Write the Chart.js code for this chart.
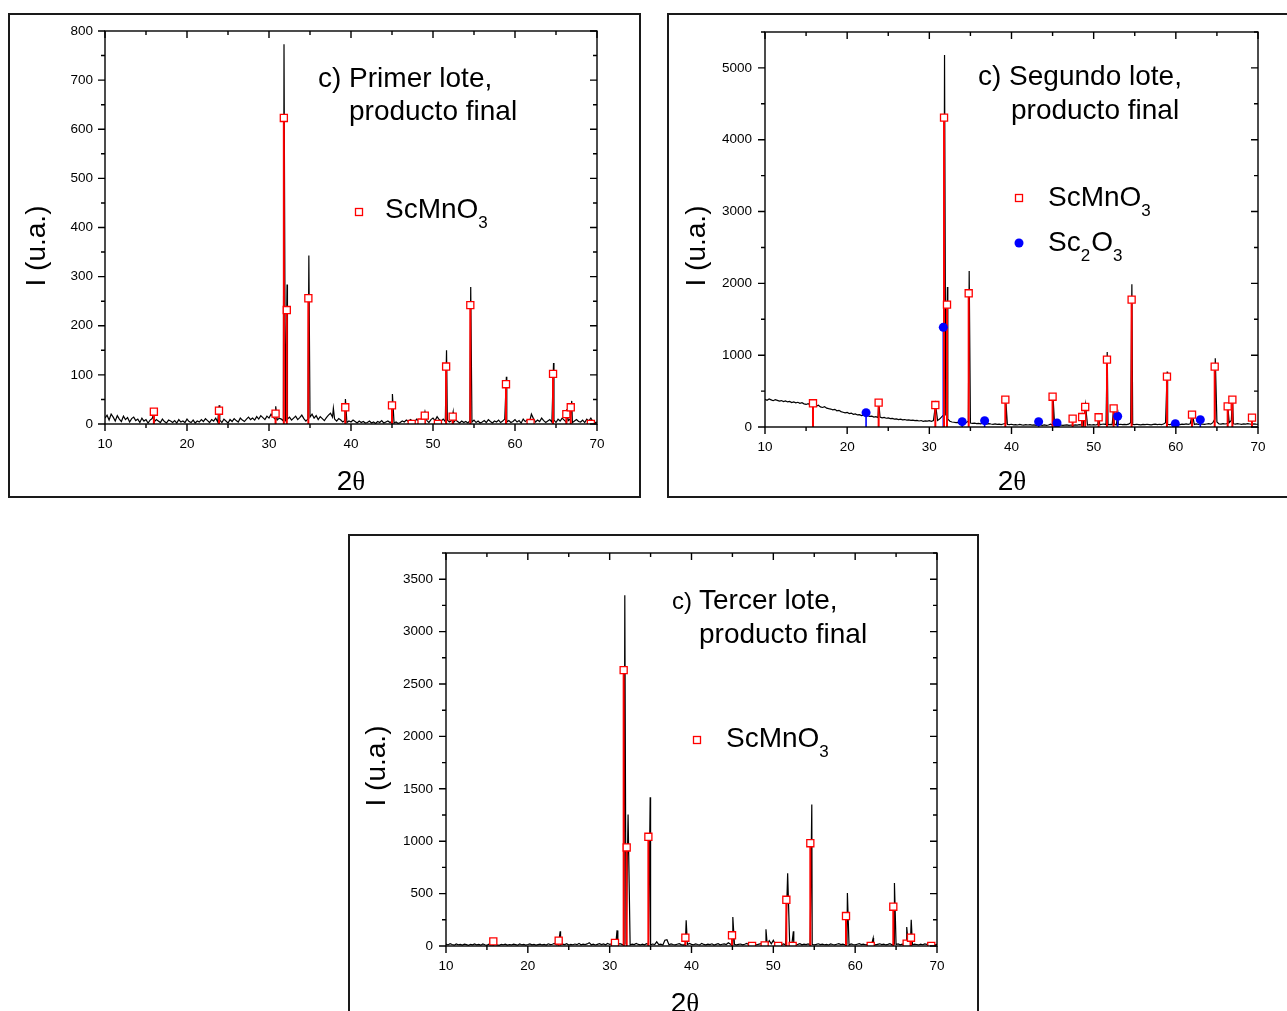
<!DOCTYPE html>
<html>
<head>
<meta charset="utf-8">
<script src="https://cdn.jsdelivr.net/npm/chart.js@4.4.1/dist/chart.umd.min.js"></script>
<style>
  html, body { margin: 0; padding: 0; background: #fff; width: 1287px; height: 1011px; overflow: hidden; }
  .frame { position: absolute; border: 2px solid #1a1a1a; box-sizing: border-box; }
  canvas { position: absolute; }
</style>
</head>
<body>
<div class="frame" style="left:8px;top:13px;width:633px;height:485px"></div>
<div class="frame" style="left:667px;top:13px;width:624px;height:485px"></div>
<div class="frame" style="left:348px;top:534px;width:631px;height:500px"></div>
<canvas id="c1" width="629" height="480" style="left:10px;top:15px"></canvas>
<canvas id="c2" width="616" height="480" style="left:669px;top:15px"></canvas>
<canvas id="c3" width="627" height="475" style="left:350px;top:536px"></canvas>
<script>
// Scan grid of the diffractometer (degrees 2θ)
const SCAN_START = 10;
const SCAN_STEP = 0.25;

// Axis ticks
const xTicks = [10, 20, 30, 40, 50, 60, 70];
const xMinorTicks = [15, 25, 35, 45, 55, 65];
const yTicks1 = [0, 100, 200, 300, 400, 500, 600, 700, 800];
const yTicks2 = [0, 1000, 2000, 3000, 4000, 5000];
const yTicks3 = [0, 500, 1000, 1500, 2000, 2500, 3000, 3500];

// ---- Primer lote ----
const background1 = [
  12, 18, 8, 20, 14, 6, 17, 10,
  5, 16, 9, 13, 4, 11, 14, 7,
  10, 3, 12, 6, 9, 2, 8, 11,
  4, 9, 6, 3, 10, 5, 2, 8,
  6, 3, 7, 2, 9, 4, 6, 3,
  10, 5, 3, 8, 2, 6, 4, 9,
  5, 11, 7, 3, 9, 6, 12, 4,
  8, 3, 10, 6, 2, 9, 5, 11,
  7, 4, 12, 8, 5, 10, 14, 9,
  12, 8, 15, 10, 17, 13, 9, 16,
  12, 20, 14, 10, 8, 12, 10, 6,
  5, 10, 14, 8, 12, 16, 9, 13,
  18, 11, 6, 10, 14, 20, 12, 17,
  9, 15, 11, 7, 13, 18, 22, 14,
  10, 6, 11, 8, 4, 7, 3, 6,
  4, 8, 5, 2, 6, 3, 5, 2,
  3, 6, 2, 4, 1, 5, 3, 7,
  2, 4, 6, 3, 5, 2, 4, 1,
  3, 6, 4, 8, 5, 9, 6, 4,
  10, 6, 8, 4, 11, 7, 3, 9,
  12, 7, 15, 9, 6, 10, 5, 8,
  4, 7, 3, 8, 5, 2, 6, 3,
  5, 2, 7, 4, 8, 3, 6, 2,
  4, 7, 3, 9, 5, 2, 6, 4,
  8, 3, 6, 10, 4, 7, 3, 5,
  9, 4, 7, 2, 10, 5, 8, 3,
  6, 11, 4, 8, 5, 12, 7, 3,
  6, 9, 4, 8, 3, 10, 6, 12,
  8, 4, 7, 10, 3, 6, 9, 5,
  4, 8, 3, 10, 6, 12, 5, 3, 4
];
const peakAngles1 = [15.95, 23.92, 30.82, 31.83, 32.2, 34.86, 37.85, 39.32, 45.05, 49.02, 51.65, 52.45, 54.6, 58.95, 62.0, 64.7, 66.3, 66.92];
const peakCounts1 = [22, 38, 36, 773, 284, 343, 32, 51, 61, 25, 150, 24, 279, 96, 20, 124, 30, 47];
const scmnoAngles1 = [15.96, 23.9, 30.8, 31.81, 32.17, 34.8, 39.3, 45.0, 47.4, 48.6, 49.0, 50.6, 51.6, 52.4, 54.55, 58.9, 61.9, 64.64, 66.26, 66.8, 69.25];
const scmnoInt1 = [25, 27, 21, 623, 232, 256, 34, 38, 0, 3, 17, 0, 117, 15, 242, 81, 2, 102, 20, 34, 0];

// ---- Segundo lote ----
const background2 = [
  385, 372, 390, 378, 366, 380, 371, 360,
  368, 355, 362, 349, 357, 340, 350, 336,
  344, 330, 338, 322, 314, 326, 305, 312,
  298, 290, 302, 280, 272, 284, 262, 255,
  250, 238, 246, 226, 232, 214, 206, 198,
  204, 188, 194, 176, 182, 168, 172, 160,
  166, 152, 158, 148, 150, 138, 145, 132,
  138, 128, 134, 122, 126, 116, 120, 110,
  114, 104, 110, 100, 104, 96, 100, 92,
  96, 88, 92, 84, 90, 80, 86, 82,
  88, 80, 90, 86, 92, 110, 140, 170,
  160, 110, 80, 70, 66, 60, 64, 56,
  60, 54, 62, 80, 56, 50, 54, 48,
  50, 44, 52, 46, 40, 48, 42, 38,
  44, 36, 40, 34, 42, 50, 36, 32,
  38, 30, 34, 28, 36, 30, 26, 32,
  28, 34, 26, 30, 24, 32, 28, 22,
  30, 24, 28, 40, 26, 22, 30, 24,
  28, 22, 26, 30, 24, 28, 22, 30,
  26, 32, 28, 34, 30, 26, 32, 28,
  34, 28, 36, 30, 38, 40, 34, 30,
  36, 32, 40, 30, 34, 38, 32, 36,
  34, 40, 60, 36, 32, 38, 34, 30,
  36, 32, 38, 34, 30, 36, 40, 34,
  38, 34, 42, 60, 38, 34, 40, 36,
  42, 38, 34, 40, 36, 42, 38, 44,
  40, 36, 42, 38, 44, 40, 36, 42,
  46, 40, 60, 110, 70, 44, 40, 46,
  42, 48, 60, 90, 44, 40, 46, 42,
  38, 44, 40, 46, 42, 36, 44, 40, 38
];
const peakAngles2 = [23.85, 30.76, 31.85, 32.2, 34.85, 39.3, 45.05, 48.6, 49.0, 50.62, 51.65, 52.45, 52.95, 54.65, 58.95, 62.0, 64.8, 66.32, 66.9];
const peakCounts2 = [340, 310, 5181, 1950, 2173, 385, 435, 150, 310, 140, 1045, 270, 170, 1987, 771, 180, 956, 300, 410];
const scmnoAngles2 = [15.84, 23.83, 30.73, 31.79, 32.15, 34.79, 39.25, 45.0, 47.44, 48.6, 48.97, 50.6, 51.62, 52.43, 54.62, 58.92, 61.97, 64.73, 66.31, 66.88, 69.27];
const scmnoInt2 = [330, 339, 306, 4308, 1704, 1862, 381, 422, 116, 139, 279, 135, 938, 260, 1773, 701, 172, 840, 288, 381, 130];
const sc2o3Angles2 = [22.3, 31.7, 34.0, 36.73, 43.3, 45.54, 52.92, 59.94, 62.98];
const sc2o3Int2 = [200, 1388, 74, 88, 74, 56, 149, 46, 102];

// ---- Tercer lote ----
const background3 = [
  18, 10, 22, 14, 8, 20, 12, 16,
  9, 18, 13, 7, 16, 11, 20, 10,
  15, 8, 19, 12, 6, 17, 10, 14,
  20, 11, 7, 16, 12, 18, 9, 14,
  10, 17, 13, 8, 19, 12, 15, 9,
  14, 20, 11, 16, 8, 13, 18, 10,
  15, 9, 21, 13, 17, 24, 12, 16,
  10, 18, 14, 22, 9, 16, 12, 19,
  13, 25, 11, 17, 14, 20, 32, 12,
  18, 10, 16, 22, 13, 19, 11, 24,
  15, 20, 12, 18, 14, 22, 16, 10,
  14, 20, 11, 17, 13, 24, 15, 10,
  18, 12, 22, 16, 11, 19, 14, 40,
  13, 18, 10, 55, 15, 12, 20, 14,
  11, 17, 22, 13, 9, 19, 14, 24,
  16, 12, 20, 14, 10, 25, 15, 11,
  18, 13, 21, 9, 16, 22, 12, 17,
  20, 14, 30, 18, 12, 16, 10, 15,
  19, 11, 17, 24, 13, 20, 10, 16,
  12, 18, 22, 14, 10, 17, 50, 20,
  40, 15, 11, 18, 14, 20, 12, 17,
  15, 10, 19, 13, 16, 22, 11, 18,
  14, 20, 12, 17, 10, 15, 21, 13,
  18, 12, 16, 10, 20, 14, 11, 17,
  22, 13, 18, 12, 16, 10, 19, 14,
  11, 17, 23, 13, 18, 12, 16, 20,
  14, 18, 11, 16, 21, 13, 17, 10,
  15, 22, 12, 18, 14, 20, 11, 17,
  13, 19, 16, 22, 12, 18, 14, 10,
  17, 12, 20, 15, 26, 13, 18, 11, 16
];
const peakAngles3 = [23.95, 30.9, 31.85, 32.25, 34.95, 37.0, 39.35, 45.05, 49.1, 50.0, 51.75, 52.45, 54.7, 59.05, 62.2, 64.8, 66.3, 66.85];
const peakCounts3 = [140, 149, 3347, 1254, 1420, 60, 245, 276, 159, 54, 695, 140, 1350, 505, 76, 600, 181, 251];
const scmnoAngles3 = [15.78, 23.77, 30.65, 31.71, 32.08, 34.73, 39.25, 44.95, 47.4, 48.94, 50.6, 51.59, 52.36, 54.52, 58.88, 61.9, 64.66, 66.29, 66.82, 69.3];
const scmnoInt3 = [44, 51, 29, 2633, 940, 1042, 79, 102, 0, 6, 0, 441, 0, 981, 286, 0, 375, 22, 79, 0];

const SANS = '"Liberation Sans", Arial, sans-serif';
const SERIF = '"Liberation Serif", "DejaVu Serif", serif';
const RED = '#ff0000';
const BLUE = '#0000ff';

// Measured pattern: background scan with the reflection maxima placed at their angles
function pattern(background, angles, counts) {
  const pts = [];
  background.forEach((v, i) => {
    const x = SCAN_START + i * SCAN_STEP;
    if (!angles.some(a => Math.abs(a - x) < 0.03)) pts.push({ x, y: v });
  });
  angles.forEach((a, i) => pts.push({ x: a, y: counts[i] }));
  return pts.sort((p, q) => p.x - q.x);
}
// Reference card drawn as vertical sticks from zero
function sticks(angles, ints) {
  const pts = [];
  angles.forEach((a, i) => { pts.push({ x: a, y: 0 }, { x: a, y: ints[i] }, { x: a, y: null }); });
  return pts;
}
function marks(angles, ints) {
  return angles.map((a, i) => ({ x: a, y: ints[i] }));
}
function midpoints(t) {
  const m = [];
  for (let i = 0; i < t.length - 1; i++) m.push((t[i] + t[i + 1]) / 2);
  return m;
}

// Box around the plot area with inward ticks on top/right and outward on bottom/left
const axesBox = {
  id: 'axesBox',
  afterDatasetsDraw(chart, args, o) {
    const { ctx, chartArea: a, scales: { x, y } } = chart;
    ctx.save();
    ctx.strokeStyle = '#000';
    ctx.lineWidth = 1.4;
    ctx.beginPath();
    const seg = (x1, y1, x2, y2) => { ctx.moveTo(x1, y1); ctx.lineTo(x2, y2); };
    const xt = (vals, len) => vals.forEach(v => {
      const p = x.getPixelForValue(v);
      seg(p, a.bottom, p, a.bottom + len);
      seg(p, a.top, p, a.top + len);
    });
    const yt = (vals, len) => vals.forEach(v => {
      const p = y.getPixelForValue(v);
      if (p < a.top - 0.5) return;
      seg(a.left - len, p, a.left, p);
      seg(a.right, p, a.right - len, p);
    });
    xt(o.xMajor, 7); xt(o.xMinor, 4);
    yt(o.yMajor, 7); yt(o.yMinor, 4);
    ctx.stroke();
    ctx.strokeRect(a.left, a.top, a.right - a.left, a.bottom - a.top);
    ctx.restore();
  }
};

// Panel captions, legend entries and axis titles
const panelText = {
  id: 'panelText',
  afterDraw(chart, args, o) {
    const ctx = chart.ctx;
    const ox = o.origin[0], oy = o.origin[1];
    ctx.save();
    ctx.fillStyle = '#000';
    ctx.textBaseline = 'alphabetic';
    ctx.textAlign = 'left';
    o.lines.forEach(l => {
      ctx.font = l.size + 'px ' + SANS;
      ctx.fillText(l.text, l.x - ox, l.y - oy);
    });
    // legend
    o.legend.forEach(e => {
      const mx = e.mx - ox, my = e.my - oy;
      if (e.symbol === 'rect') {
        ctx.fillStyle = '#fff';
        ctx.strokeStyle = RED;
        ctx.lineWidth = 1.3;
        ctx.fillRect(mx - 3.5, my - 3.5, 7, 7);
        ctx.strokeRect(mx - 3.5, my - 3.5, 7, 7);
      } else {
        ctx.fillStyle = BLUE;
        ctx.beginPath();
        ctx.arc(mx, my, 4.5, 0, Math.PI * 2);
        ctx.fill();
      }
      ctx.fillStyle = '#000';
      let tx = e.tx - ox;
      const ty = e.ty - oy;
      e.parts.forEach(p => {
        const sub = p[1];
        ctx.font = (sub ? 17 : 28) + 'px ' + SANS;
        ctx.fillText(p[0], tx, sub ? ty + 10 : ty);
        tx += ctx.measureText(p[0]).width + (sub ? 1 : 0);
      });
    });
    // y title
    ctx.save();
    ctx.translate(o.yTitle[0] - ox, o.yTitle[1] - oy);
    ctx.rotate(-Math.PI / 2);
    ctx.textAlign = 'center';
    ctx.textBaseline = 'middle';
    ctx.font = '28px ' + SANS;
    ctx.fillText('I (u.a.)', 0, 0);
    ctx.restore();
    // x title: 2θ
    ctx.font = '28px ' + SANS;
    const w2 = ctx.measureText('2').width;
    ctx.font = '27px ' + SERIF;
    const wt = ctx.measureText('θ').width;
    const sx = o.xTitle[0] - ox - (w2 + wt) / 2;
    const by = o.xTitle[1] - oy;
    ctx.font = '28px ' + SANS;
    ctx.fillText('2', sx, by);
    ctx.font = '27px ' + SERIF;
    ctx.fillText('θ', sx + w2, by);
    ctx.restore();
  }
};

function makePanel(id, cfg) {
  const datasets = [];
  datasets.push({
    data: pattern(cfg.background, cfg.peakAngles, cfg.peakCounts),
    borderColor: '#000', borderWidth: 1.2, pointRadius: 0, order: 5
  });
  if (cfg.secAngles) {
    datasets.push({
      data: sticks(cfg.secAngles, cfg.secInt),
      borderColor: BLUE, borderWidth: 1.6, pointRadius: 0, spanGaps: false, order: 4
    });
  }
  datasets.push({
    data: sticks(cfg.refAngles, cfg.refInt),
    borderColor: RED, borderWidth: 2, pointRadius: 0, spanGaps: false, order: 3
  });
  if (cfg.secAngles) {
    datasets.push({
      data: marks(cfg.secAngles, cfg.secInt),
      showLine: false, pointStyle: 'circle', pointRadius: 4.5,
      pointBackgroundColor: BLUE, pointBorderColor: BLUE, pointBorderWidth: 0, order: 1,
      clip: { left: false, top: false, right: false, bottom: 0 }
    });
  }
  datasets.push({
    data: marks(cfg.refAngles, cfg.refInt),
    showLine: false, pointStyle: 'rect', pointRadius: 5,
    pointBackgroundColor: '#fff', pointBorderColor: RED, pointBorderWidth: 1.3, order: 0,
    clip: { left: false, top: false, right: false, bottom: 0 }
  });

  const tickFont = { family: SANS, size: 13.5 };
  return new Chart(document.getElementById(id), {
    type: 'line',
    data: { datasets },
    plugins: [axesBox, panelText],
    options: {
      responsive: false,
      animation: false,
      events: [],
      layout: { padding: { left: 0, top: cfg.padTop, right: cfg.padRight, bottom: 0 } },
      plugins: {
        legend: { display: false },
        tooltip: { enabled: false },
        axesBox: { xMajor: xTicks, xMinor: xMinorTicks, yMajor: cfg.yTicks, yMinor: midpoints(cfg.yTicks.concat([cfg.yTicks[cfg.yTicks.length - 1] * 2 - cfg.yTicks[cfg.yTicks.length - 2]])) },
        panelText: cfg.text
      },
      scales: {
        x: {
          type: 'linear', min: 10, max: 70,
          afterBuildTicks: s => { s.ticks = xTicks.map(v => ({ value: v })); },
          afterFit: s => { s.height = cfg.xAxisH; },
          grid: { display: false, drawTicks: true, tickLength: 8 }, border: { display: false },
          ticks: { color: '#000', font: tickFont, padding: 4, maxRotation: 0, autoSkip: false, callback: v => String(v) }
        },
        y: {
          type: 'linear', min: 0, max: cfg.yMax,
          afterBuildTicks: s => { s.ticks = cfg.yTicks.map(v => ({ value: v })); },
          afterFit: s => { s.width = cfg.yAxisW; },
          grid: { display: false, drawTicks: true, tickLength: cfg.yLabelGap }, border: { display: false },
          ticks: { color: '#000', font: tickFont, padding: 0, autoSkip: false, callback: v => String(v) }
        }
      }
    }
  });
}

makePanel('c1', {
  background: background1, peakAngles: peakAngles1, peakCounts: peakCounts1,
  refAngles: scmnoAngles1, refInt: scmnoInt1,
  yTicks: yTicks1, yMax: 800,
  padTop: 16, padRight: 42, yAxisW: 95, xAxisH: 71, yLabelGap: 12,
  text: {
    origin: [10, 15],
    lines: [
      { text: 'c) Primer lote,', x: 318, y: 87, size: 28 },
      { text: 'producto final', x: 349, y: 120, size: 28 }
    ],
    legend: [
      { symbol: 'rect', mx: 359, my: 212, tx: 385, ty: 218, parts: [['ScMnO', false], ['3', true]] }
    ],
    yTitle: [37, 246],
    xTitle: [351, 490]
  }
});

makePanel('c2', {
  background: background2, peakAngles: peakAngles2, peakCounts: peakCounts2,
  refAngles: scmnoAngles2, refInt: scmnoInt2,
  secAngles: sc2o3Angles2, secInt: sc2o3Int2,
  yTicks: yTicks2, yMax: 5500,
  padTop: 17, padRight: 27, yAxisW: 96, xAxisH: 68, yLabelGap: 13,
  text: {
    origin: [669, 15],
    lines: [
      { text: 'c) Segundo lote,', x: 978, y: 85, size: 28 },
      { text: 'producto final', x: 1011, y: 119, size: 28 }
    ],
    legend: [
      { symbol: 'rect', mx: 1019, my: 198, tx: 1048, ty: 206, parts: [['ScMnO', false], ['3', true]] },
      { symbol: 'circle', mx: 1019, my: 243, tx: 1048, ty: 251, parts: [['Sc', false], ['2', true], ['O', false], ['3', true]] }
    ],
    yTitle: [697, 246],
    xTitle: [1012, 490]
  }
});

makePanel('c3', {
  background: background3, peakAngles: peakAngles3, peakCounts: peakCounts3,
  refAngles: scmnoAngles3, refInt: scmnoInt3,
  yTicks: yTicks3, yMax: 3750,
  padTop: 17, padRight: 40, yAxisW: 96, xAxisH: 65, yLabelGap: 13,
  text: {
    origin: [350, 536],
    lines: [
      { text: 'c)', x: 672, y: 609, size: 24 },
      { text: 'Tercer lote,', x: 699, y: 609, size: 28 },
      { text: 'producto final', x: 699, y: 643, size: 28 }
    ],
    legend: [
      { symbol: 'rect', mx: 697, my: 740, tx: 726, ty: 747, parts: [['ScMnO', false], ['3', true]] }
    ],
    yTitle: [377, 766],
    xTitle: [685, 1012]
  }
});
</script>
</body>
</html>
